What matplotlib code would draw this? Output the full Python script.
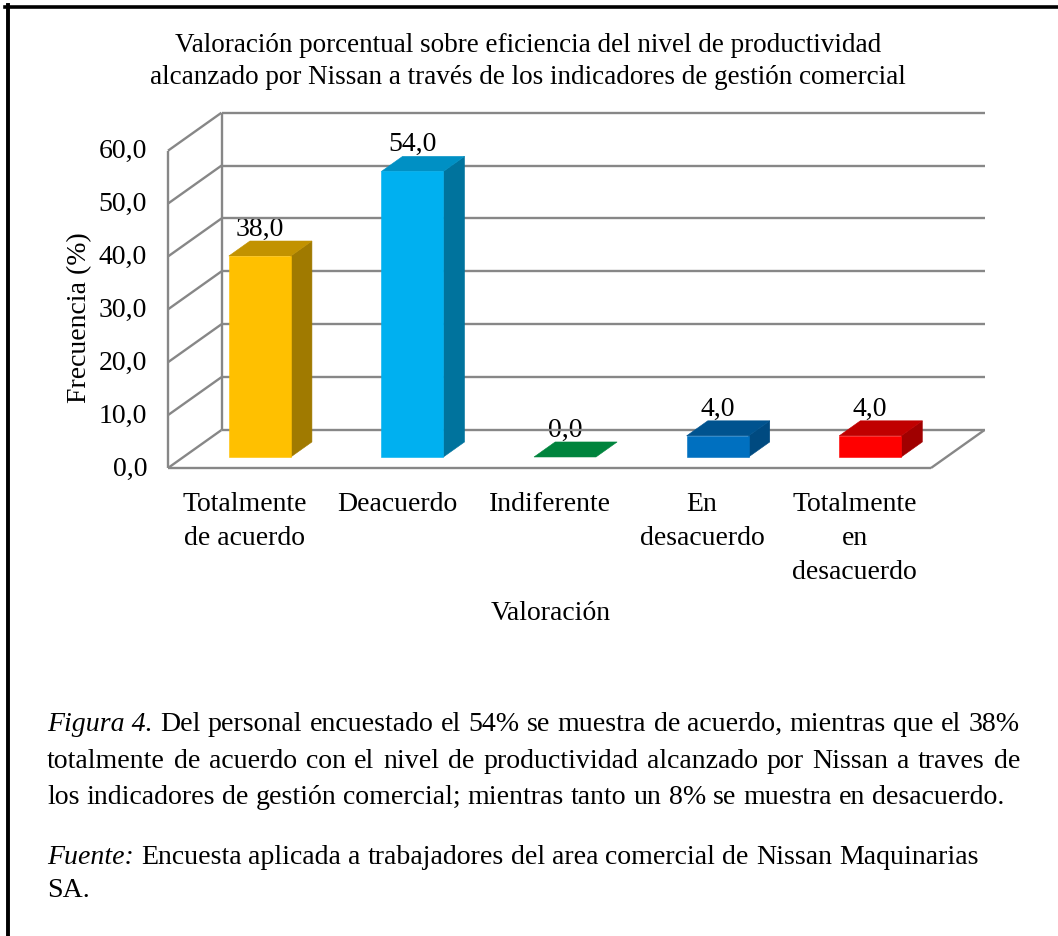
import matplotlib
matplotlib.use("Agg")
import matplotlib.pyplot as plt
from matplotlib.patches import Polygon
from matplotlib.lines import Line2D
from matplotlib.transforms import ScaledTranslation

# ---------------- data ----------------
categories = ["Totalmente\nde acuerdo", "Deacuerdo", "Indiferente",
              "En\ndesacuerdo", "Totalmente\nen\ndesacuerdo"]
values = [38.0, 54.0, 0.0, 4.0, 4.0]
value_labels = ["38,0", "54,0", "0,0", "4,0", "4,0"]
yticks = [0, 10, 20, 30, 40, 50, 60]
ytick_labels = ["0,0", "10,0", "20,0", "30,0", "40,0", "50,0", "60,0"]
front_colors = ["#FFC000", "#00B0F0", "#00843D", "#0070C0", "#FF0000"]
top_colors = ["#C29200", "#0090C4", "#00843D", "#00538F", "#C00000"]
side_colors = ["#A07A00", "#00739D", "#006030", "#004A80", "#A00000"]
title_lines = ["Valoración porcentual sobre eficiencia del nivel de productividad",
               "alcanzado por Nissan a través de los indicadores de gestión comercial"]
ylabel = "Frecuencia (%)"
xlabel = "Valoración"
caption = [
    [("Figura 4.", True), ("Del", False), ("personal", False), ("encuestado", False), ("el", False),
     ("54%", False), ("se", False), ("muestra", False), ("de", False), ("acuerdo,", False),
     ("mientras", False), ("que", False), ("el", False), ("38%", False)],
    [(w, False) for w in "totalmente de acuerdo con el nivel de productividad alcanzado por Nissan a traves de".split()],
    [(w, False) for w in "los indicadores de gestión comercial; mientras tanto un 8% se muestra en desacuerdo.".split()],
    None,
    [("Fuente:", True)] + [(w, False) for w in "Encuesta aplicada a trabajadores del area comercial de Nissan Maquinarias".split()],
    [("SA.", False)],
]
justify = [True, True, False, False, False, False]

# ---------------- layout ----------------
W, H = 1058, 937
DPI = 100
fig = plt.figure(figsize=(W / DPI, H / DPI), dpi=DPI)
fig.patch.set_facecolor("white")
SERIF = "Liberation Serif"
plt.rcParams["font.family"] = SERIF
FS = 20

def fx(px):
    return px / W

def fy(py):
    return 1 - py / H

# front plane of the 3D box (pixels)
x_left, x_right = 168, 931
y_zero, y_top = 469, 151.7
ax = fig.add_axes([fx(x_left), fy(y_zero), fx(x_right - x_left), (y_zero - y_top) / H])
ax.set_xlim(0, len(categories))
ax.set_ylim(0, 60)
ax.axis("off")

DX, DY = 0.535, 0.38   # depth offset (inches) for full depth
Z0, Z1 = 0.29, 0.685   # bar depth range
HALF_W = 0.203

def tz(z, ox=0.0, oy=0.0):
    return ax.transData + ScaledTranslation(z * DX + ox, z * DY + oy, fig.dpi_scale_trans)

inv = fig.transFigure.inverted()

def proj(x, v, z):
    return inv.transform(tz(z).transform((x, v)))

grid_col = "#878787"
glw = 1.7

def line3(p, q):
    a = proj(*p)
    b = proj(*q)
    fig.add_artist(Line2D([a[0], b[0]], [a[1], b[1]], color=grid_col, lw=glw,
                          transform=fig.transFigure, zorder=1, solid_capstyle="butt"))

n = len(categories)
for t in yticks:
    line3((0, t, 1), (n, t, 1))   # back wall
    line3((0, t, 0), (0, t, 1))   # side wall
line3((0, 0, 0), (0, yticks[-1], 0))
line3((0, 0, 1), (0, yticks[-1], 1))
line3((0, 0, 0), (n, 0, 0))
line3((n, 0, 0), (n, 0, 1))

def face(pts, color):
    P = [proj(*p) for p in pts]
    fig.add_artist(Polygon(P, closed=True, facecolor=color, edgecolor=color, lw=0.4,
                           transform=fig.transFigure, zorder=3))

for i, v in enumerate(values):
    c = i + 0.5
    l, r = c - HALF_W, c + HALF_W
    if v > 0:
        face([(r, 0, Z0), (r, 0, Z1), (r, v, Z1), (r, v, Z0)], side_colors[i])
        face([(l, v, Z0), (r, v, Z0), (r, v, Z1), (l, v, Z1)], top_colors[i])
        face([(l, 0, Z0), (r, 0, Z0), (r, v, Z0), (l, v, Z0)], front_colors[i])
    else:
        face([(l, v, Z0), (r, v, Z0), (r, v, Z1), (l, v, Z1)], front_colors[i])
    # value label
    trans = ax.transData + ScaledTranslation(Z0 * DX, Z1 * DY + 0.0, fig.dpi_scale_trans)
    ax.text(c, v, value_labels[i], transform=trans, ha="center", va="bottom",
            fontsize=FS, family=SERIF, zorder=5, clip_on=False)

# tick labels
for t, lab in zip(yticks, ytick_labels):
    ax.text(0, t, lab, transform=tz(0, ox=-0.21), ha="right", va="center",
            fontsize=FS, family=SERIF, clip_on=False)

# category labels
for i, lab in enumerate(categories):
    ax.text(i + 0.5, 0, lab, transform=tz(0, oy=-0.235), ha="center", va="top",
            fontsize=FS, family=SERIF, linespacing=1.46, clip_on=False)

# titles / axis labels
fig.text(fx(528), fy(45), title_lines[0], ha="center", va="center", fontsize=19.5, family=SERIF)
fig.text(fx(528), fy(78), title_lines[1], ha="center", va="center", fontsize=19.5, family=SERIF)
fig.text(fx(80), fy(318), ylabel, rotation=90, ha="center", va="center", fontsize=FS, family=SERIF)
fig.text(fx(551), fy(614), xlabel, ha="center", va="center", fontsize=FS, family=SERIF)

# caption (justified)
cap_fs = 20.1
renderer = fig.canvas.get_renderer()

def width_of(s, italic):
    t = fig.text(0, 0, s, fontsize=cap_fs, family=SERIF, style="italic" if italic else "normal")
    w = t.get_window_extent(renderer).width
    t.remove()
    return w

space_w = width_of("a a", False) - width_of("aa", False)
baselines = [731, 768, 804, None, 864, 897]
cap_x0, cap_x1 = 47, 1020
for line, base, just in zip(caption, baselines, justify):
    if line is None:
        continue
    widths = [width_of(w, it) for w, it in line]
    if just and len(line) > 1:
        gap = (cap_x1 - cap_x0 - sum(widths)) / (len(line) - 1)
    else:
        gap = space_w
    x = cap_x0
    for (w, it), wd in zip(line, widths):
        fig.text(fx(x), fy(base), w, ha="left", va="baseline", fontsize=cap_fs, family=SERIF,
                 style="italic" if it else "normal")
        x += wd + gap

# frame
fig.add_artist(Line2D([fx(5), fx(W)], [fy(7.8), fy(7.8)], color="black", lw=2.6,
                      transform=fig.transFigure))
fig.add_artist(Line2D([fx(8.3), fx(8.3)], [fy(6), fy(H)], color="black", lw=2.8,
                      transform=fig.transFigure))

fig.savefig("out.png", dpi=DPI)
